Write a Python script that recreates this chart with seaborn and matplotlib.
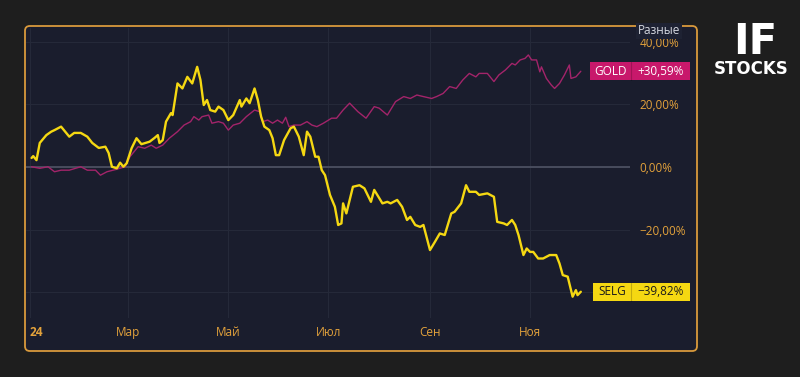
import numpy as np
import pandas as pd
import matplotlib
matplotlib.use("Agg")
import matplotlib.pyplot as plt
from matplotlib.patches import FancyBboxPatch, Rectangle
from matplotlib.transforms import blended_transform_factory
import seaborn as sns

# дни от 1 янв 2024 и изменение, %
selg_day = [1, 2, 4, 6, 10, 13, 15, 19, 24, 27, 31, 35, 38, 42, 46, 48, 50, 53, 55, 57,
            59, 62, 65, 68, 73, 76, 78, 79, 81, 83, 86, 87, 90, 93, 96, 99, 102, 104, 106, 108,
            110, 113, 115, 118, 121, 124, 128, 129, 132, 134, 137, 139, 141, 143, 146, 148, 150, 152, 155, 159,
            161, 164, 167, 169, 171, 174, 176, 178, 180, 183, 186, 188, 190, 191, 193, 197, 201, 204, 208, 210,
            215, 218, 220, 224, 227, 230, 232, 235, 238, 240, 244, 247, 250, 253, 257, 259, 263, 266, 268, 272,
            274, 279, 283, 285, 289, 291, 294, 296, 298, 301, 303, 305, 307, 310, 313, 317, 321, 323, 325, 328,
            331, 333, 334, 336]
selg_pct = [2.9, 3.5, 2.2, 7.7, 10.2, 11.3, 11.8, 12.9, 9.7, 10.9, 10.9, 9.7, 7.7, 6.1, 6.5, 4.5, 0.1, -0.4, 1.4, 0.1,
            1.2, 6.0, 9.2, 7.3, 8.1, 9.3, 10.2, 7.7, 8.6, 14.5, 17.2, 16.6, 26.7, 25.1, 28.8, 26.7, 32.0, 27.8, 19.8, 21.4,
            18.2, 17.7, 19.3, 18.2, 15.0, 16.6, 21.4, 19.3, 21.9, 20.4, 25.1, 21.4, 16.1, 12.9, 11.8, 9.2, 3.8, 3.8, 8.6, 12.4,
            12.9, 9.7, 3.8, 11.3, 9.7, 3.3, 3.3, -1.0, -2.6, -8.9, -12.7, -18.5, -18.0, -11.6, -14.8, -6.3, -5.8, -6.8, -11.1, -7.3,
            -11.6, -11.1, -11.6, -10.5, -12.7, -16.9, -15.9, -18.5, -19.1, -18.5, -26.5, -23.9, -21.2, -21.7, -14.8, -14.3, -11.6, -5.8, -7.9, -7.9,
            -8.9, -8.4, -9.5, -17.5, -18.0, -18.5, -16.9, -18.5, -21.7, -28.1, -26.0, -27.1, -27.1, -29.2, -29.2, -28.1, -28.1, -30.8, -34.5, -35.0,
            -41.4, -39.3, -40.9, -39.82]

gold_day = [1, 6, 11, 15, 19, 24, 31, 35, 40, 43, 47, 53, 58, 61, 66, 70, 74, 77, 81, 85,
            90, 94, 98, 100, 103, 105, 109, 111, 115, 118, 121, 124, 128, 132, 137, 140, 142, 145, 148, 151,
            154, 156, 158, 161, 165, 169, 172, 175, 179, 184, 187, 191, 195, 200, 205, 210, 213, 218, 223, 228,
            232, 236, 240, 245, 248, 252, 256, 260, 264, 268, 272, 274, 279, 283, 286, 290, 294, 296, 299, 302,
            304, 306, 309, 311, 312, 315, 318, 320, 323, 326, 329, 330, 333, 336]
gold_pct = [0.1, -0.4, 0.1, -1.5, -1.0, -1.0, 0.1, -1.0, -1.0, -2.6, -1.5, -0.7, 0.1, 3.3, 6.5, 6.0, 7.0, 6.0, 7.0, 9.2,
            11.3, 13.4, 14.5, 16.1, 15.0, 16.1, 16.6, 14.0, 14.5, 14.0, 11.8, 13.4, 14.0, 16.1, 18.2, 17.7, 14.5, 15.0, 14.0, 15.0,
            14.0, 15.9, 12.9, 13.4, 13.4, 14.5, 13.4, 12.9, 14.0, 15.6, 15.6, 18.2, 20.4, 17.7, 15.6, 19.3, 18.8, 16.6, 20.9, 22.5,
            21.9, 23.0, 22.5, 21.9, 22.5, 23.5, 25.7, 25.1, 27.8, 29.9, 28.8, 29.9, 29.9, 27.3, 29.4, 31.0, 33.1, 32.6, 34.2, 34.7,
            35.8, 34.2, 34.2, 30.4, 32.0, 28.3, 26.2, 25.1, 26.7, 29.4, 32.6, 28.3, 28.8, 30.59]

month_ticks = ["2024-01-01", "2024-03-01", "2024-05-01", "2024-07-01", "2024-09-01", "2024-11-01"]
month_labels = ["24", "Мар", "Май", "Июл", "Сен", "Ноя"]
y_ticks = [-40, -20, 0, 20, 40]

start = pd.Timestamp("2024-01-01")
selg = pd.DataFrame({"date": start + pd.to_timedelta(selg_day, unit="D"), "pct": selg_pct})
gold = pd.DataFrame({"date": start + pd.to_timedelta(gold_day, unit="D"), "pct": gold_pct})

sns.set_style("dark")
plt.rcParams["font.family"] = ["Open Sans", "DejaVu Sans"]

W, H = 800, 377
fig = plt.figure(figsize=(W / 100, H / 100), dpi=100, facecolor="#1e1e1e")

# рамка панели (под осями)
panel = FancyBboxPatch((25 / W, 1 - 351 / H), 672 / W, 325 / H,
                       boxstyle="round,pad=0,rounding_size=0.006", mutation_aspect=W / H,
                       transform=fig.transFigure, facecolor="#1a1d2d", edgecolor="#d99a3c",
                       lw=1.3, zorder=-5)
fig.patches.append(panel)

ax = fig.add_axes([26 / W, 1 - 318 / H, 604 / W, 290 / H])
ax.set_facecolor("none")

sns.lineplot(data=gold, x="date", y="pct", color="#a3246a", lw=1.0, ax=ax)
sns.lineplot(data=selg, x="date", y="pct", color="#f5d812", lw=1.7, ax=ax)

ax.set_xlim(start - pd.Timedelta(days=2.4), start + pd.Timedelta(days=366))
ax.set_ylim(-48.2, 44.4)

ax.set_xticks(pd.to_datetime(month_ticks))
ax.set_xticklabels(month_labels)
ax.get_xticklabels()[0].set_ha("left")
ax.get_xticklabels()[0].set_fontweight("bold")
ax.set_yticks(y_ticks)
# метка −40 закрыта ярлыком SELG
ax.set_yticklabels(["" if v == -40 else f"{v:.2f}%".replace(".", ",").replace("-", "\u2212")
                    for v in y_ticks])
ax.yaxis.tick_right()
ax.tick_params(axis="x", length=0, pad=6, labelcolor="#e3a23b", labelsize=8.5)
ax.tick_params(axis="y", length=0, pad=7, labelcolor="#e3a23b", labelsize=8.5)
ax.grid(True, color="#252939", lw=0.8)
ax.axhline(0, color="#4b4f60", lw=1.3, zorder=1)
for s in ax.spines.values():
    s.set_visible(False)
ax.set_xlabel("")
ax.set_ylabel("")

fig.text(659 / W, 1 - 31 / H, "Разные", ha="center", va="center", color="#d5d8e0", fontsize=8.5,
         bbox=dict(facecolor="#1e2233", edgecolor="none", pad=1.2), zorder=10)

# ярлыки последних значений
tr = blended_transform_factory(ax.transAxes, ax.transData)
tags = [("GOLD", gold_pct[-1], "#c8186b", "white", 0.934),
        ("SELG", selg_pct[-1], "#f5d812", "#1a1a1a", 0.939)]
for name, val, bg, fg, x0 in tags:
    h = 5.9
    ax.add_patch(Rectangle((x0, val - h / 2), 1.099 - x0, h, transform=tr, facecolor=bg,
                           edgecolor="none", clip_on=False, zorder=5))
    ax.plot([1.002, 1.002], [val - h / 2, val + h / 2], transform=tr, color="#00000033",
            lw=0.8, clip_on=False, zorder=6)
    ax.text((x0 + 1.002) / 2, val, name, transform=tr, ha="center", va="center",
            color=fg, fontsize=8.5, zorder=7, clip_on=False)
    label = f"{val:+.2f}%".replace(".", ",").replace("-", "\u2212")
    ax.text(1.05, val, label, transform=tr, ha="center", va="center",
            color=fg, fontsize=8.5, zorder=7, clip_on=False)

# логотип
fig.text(755 / W, 1 - 42 / H, "IF", ha="center", va="center", color="white",
         fontsize=30, fontweight="heavy", family=["DejaVu Sans"])
fig.text(751 / W, 1 - 69 / H, "STOCKS", ha="center", va="center", color="white",
         fontsize=12, fontweight="heavy", family=["DejaVu Sans"])

fig.savefig("out.png", dpi=100, facecolor=fig.get_facecolor())
